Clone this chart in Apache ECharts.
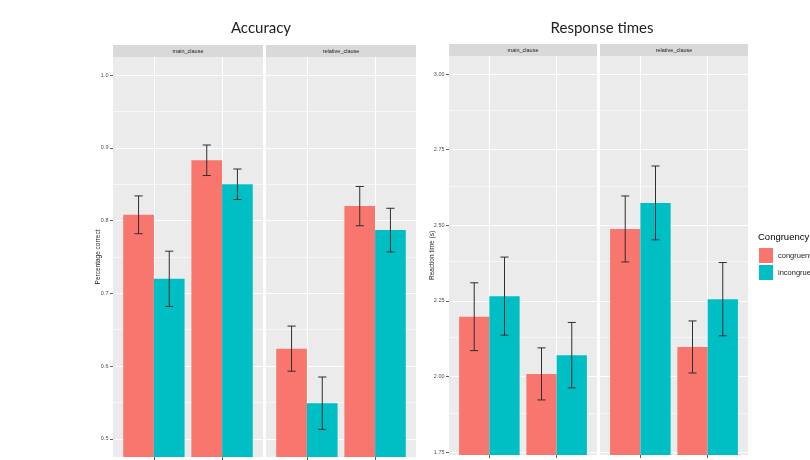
<!DOCTYPE html>
<html>
<head>
<meta charset="utf-8">
<script src="https://cdn.jsdelivr.net/npm/echarts@6/dist/echarts.min.js"></script>
<style>
  html, body { margin: 0; padding: 0; background: #ffffff; }
  #chart { width: 810px; height: 460px; }
</style>
</head>
<body>
<div id="chart"></div>
<script>
// ---- data ----
const facets = ['main_clause', 'relative_clause'];
const categories = ['short', 'long'];
const groups = ['congruent', 'incongruent'];

// Accuracy: proportion correct, with error-bar half widths
const accMainCongruent = [0.808, 0.883];
const accMainCongruentErr = [0.026, 0.021];
const accMainIncongruent = [0.720, 0.850];
const accMainIncongruentErr = [0.038, 0.021];
const accRelCongruent = [0.624, 0.820];
const accRelCongruentErr = [0.031, 0.027];
const accRelIncongruent = [0.549, 0.787];
const accRelIncongruentErr = [0.036, 0.030];

// Response times in seconds, with error-bar half widths
const rtMainCongruent = [2.198, 2.009];
const rtMainCongruentErr = [0.112, 0.086];
const rtMainIncongruent = [2.266, 2.071];
const rtMainIncongruentErr = [0.129, 0.108];
const rtRelCongruent = [2.488, 2.098];
const rtRelCongruentErr = [0.109, 0.086];
const rtRelIncongruent = [2.574, 2.256];
const rtRelIncongruentErr = [0.122, 0.121];

// axis ticks
const accTicks = [0.5, 0.6, 0.7, 0.8, 0.9, 1.0];
const accMinorTicks = [0.55, 0.65, 0.75, 0.85, 0.95];
const rtTicks = [1.75, 2.0, 2.25, 2.5, 2.75, 3.0];
const rtMinorTicks = [1.875, 2.125, 2.375, 2.625, 2.875];

// ---- styling ----
const COLORS = ['#F8766D', '#00BFC4'];
const PANEL_BG = '#EBEBEB';
const STRIP_BG = '#D9D9D9';
const DODGE = 0.9;
const BAR = DODGE / 2;
const CAP = 0.06;
const SMALL = 5.5;
const FONT = '"Liberation Sans", Arial, sans-serif';

// one entry per facet panel
const panels = [
  { grid: { left: 113, top: 57, width: 150, height: 400 }, facet: 0, plot: 'acc',
    series: [[accMainCongruent, accMainCongruentErr], [accMainIncongruent, accMainIncongruentErr]] },
  { grid: { left: 266, top: 57, width: 150, height: 400 }, facet: 1, plot: 'acc',
    series: [[accRelCongruent, accRelCongruentErr], [accRelIncongruent, accRelIncongruentErr]] },
  { grid: { left: 449, top: 56, width: 148, height: 399 }, facet: 0, plot: 'rt',
    series: [[rtMainCongruent, rtMainCongruentErr], [rtMainIncongruent, rtMainIncongruentErr]] },
  { grid: { left: 600, top: 56, width: 148, height: 399 }, facet: 1, plot: 'rt',
    series: [[rtRelCongruent, rtRelCongruentErr], [rtRelIncongruent, rtRelIncongruentErr]] }
];

const scales = {
  acc: { min: 0.475, max: 1.025, ticks: accTicks, minor: accMinorTicks,
         name: 'Percentage correct', nameGap: 11, fmt: v => v.toFixed(1) },
  rt:  { min: 1.741, max: 3.0595, ticks: rtTicks, minor: rtMinorTicks,
         name: 'Reaction time (s)', nameGap: 13.5, fmt: v => v.toFixed(2) }
};

function renderBar(params, api) {
  const cat = api.value(0);
  const v = api.value(1);
  const e = api.value(2);
  const side = api.value(3);
  const x0 = cat - DODGE / 2 + side * BAR;
  const mid = x0 + BAR / 2;
  const cs = params.coordSys;
  const base = cs.y + cs.height;
  const tl = api.coord([x0, v]);
  const tr = api.coord([x0 + BAR, v]);
  const hi = api.coord([mid, v + e]);
  const lo = api.coord([mid, v - e]);
  const cl = api.coord([mid - CAP, v])[0];
  const cr = api.coord([mid + CAP, v])[0];
  const stroke = { stroke: '#2E2E2E', lineWidth: 1 };
  return {
    type: 'group',
    children: [
      { type: 'rect', shape: { x: tl[0], y: tl[1], width: tr[0] - tl[0], height: base - tl[1] },
        style: { fill: api.visual('color') } },
      { type: 'line', shape: { x1: hi[0], y1: hi[1], x2: lo[0], y2: lo[1] }, style: stroke },
      { type: 'line', shape: { x1: cl, y1: hi[1], x2: cr, y2: hi[1] }, style: stroke },
      { type: 'line', shape: { x1: cl, y1: lo[1], x2: cr, y2: lo[1] }, style: stroke }
    ]
  };
}

const grid = [], xAxis = [], yAxis = [], series = [], graphic = [];

panels.forEach((p, i) => {
  const sc = scales[p.plot];
  const first = p.facet === 0;
  grid.push(Object.assign({ show: true, backgroundColor: PANEL_BG, borderWidth: 0,
                            containLabel: false, outerBoundsMode: 'none' }, p.grid));

  xAxis.push({
    gridIndex: i, type: 'value', min: 0.4, max: 2.6,
    axisLine: { show: false },
    splitLine: { show: false },
    axisTick: { show: true, length: 3, customValues: [1, 2], lineStyle: { color: '#333333', width: 0.8 } },
    axisLabel: { show: true, customValues: [1, 2], margin: 4, fontSize: SMALL, color: '#4D4D4D',
                 fontFamily: FONT, formatter: v => categories[Math.round(v) - 1] || '' }
  });

  yAxis.push({
    gridIndex: i, type: 'value', min: sc.min, max: sc.max,
    axisLine: { show: false },
    splitLine: { show: false },
    axisTick: { show: first, length: 3, customValues: sc.ticks, lineStyle: { color: '#333333', width: 0.8 } },
    axisLabel: { show: first, customValues: sc.ticks, margin: 4.5, fontSize: SMALL, color: '#4D4D4D',
                 fontFamily: FONT, formatter: sc.fmt },
    name: first ? sc.name : '',
    nameLocation: 'middle', nameGap: sc.nameGap, nameRotate: 90, nameMoveOverlap: false,
    nameTextStyle: { fontSize: 6.5, color: '#1A1A1A', fontFamily: FONT }
  });

  // white panel grid lines
  const major = { color: '#FFFFFF', width: 1.1, type: 'solid' };
  const minor = { color: '#FFFFFF', width: 0.55, type: 'solid' };
  series.push({
    type: 'line', xAxisIndex: i, yAxisIndex: i, data: [], silent: true, z: 1,
    markLine: {
      silent: true, symbol: ['none', 'none'], label: { show: false }, animation: false,
      data: [
        ...sc.minor.map(v => ({ yAxis: v, lineStyle: minor })),
        ...sc.ticks.map(v => ({ yAxis: v, lineStyle: major })),
        ...categories.map((c, k) => ({ xAxis: k + 1, lineStyle: major }))
      ]
    }
  });

  p.series.forEach(([vals, errs], g) => {
    series.push({
      type: 'custom', name: groups[g], xAxisIndex: i, yAxisIndex: i, z: 10,
      itemStyle: { color: COLORS[g] },
      renderItem: renderBar,
      encode: { x: 0, y: 1 },
      data: vals.map((v, k) => [k + 1, v, errs[k], g])
    });
  });

  // facet strip
  graphic.push({
    type: 'group', left: p.grid.left, top: p.grid.top - 12,
    children: [
      { type: 'rect', shape: { x: 0, y: 0, width: p.grid.width, height: 12 }, style: { fill: STRIP_BG } },
      { type: 'text', x: p.grid.width / 2, y: 6,
        style: { text: facets[p.facet], fontSize: SMALL, fill: '#1A1A1A', fontFamily: FONT,
                 align: 'center', verticalAlign: 'middle' } }
    ]
  });
});

// plot titles and legend heading
graphic.push(
  { type: 'text', x: 261, y: 28,
    style: { text: 'Accuracy', fontSize: 15, fill: '#222222', fontFamily: 'Lato, sans-serif',
             align: 'center', verticalAlign: 'middle' } },
  { type: 'text', x: 602, y: 28,
    style: { text: 'Response times', fontSize: 15, fill: '#222222', fontFamily: 'Lato, sans-serif',
             align: 'center', verticalAlign: 'middle' } },
  { type: 'text', x: 758, y: 237,
    style: { text: 'Congruency', fontSize: 9.5, fill: '#000000', fontFamily: FONT,
             align: 'left', verticalAlign: 'middle' } }
);

const chart = echarts.init(document.getElementById('chart'), null, { renderer: 'canvas' });
chart.setOption({
  animation: false,
  backgroundColor: '#FFFFFF',
  grid, xAxis, yAxis, series, graphic,
  legend: {
    data: groups, orient: 'vertical', left: 759, top: 248, padding: 0,
    itemWidth: 14, itemHeight: 15, itemGap: 2, icon: 'rect',
    textStyle: { fontSize: 7.5, color: '#1A1A1A', fontFamily: FONT }
  }
});
</script>
</body>
</html>
